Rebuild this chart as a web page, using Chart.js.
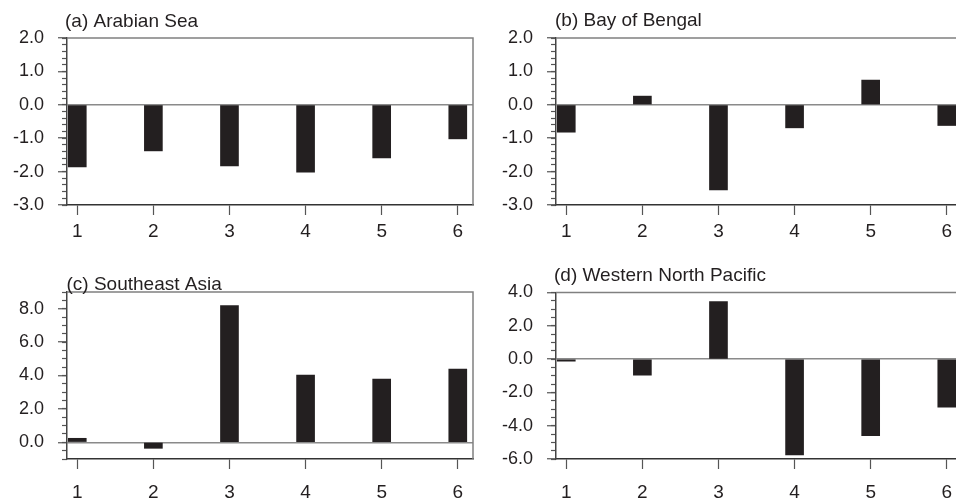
<!DOCTYPE html>
<html>
<head>
<meta charset="utf-8">
<script src="https://cdn.jsdelivr.net/npm/chart.js@4.4.1/dist/chart.umd.min.js"></script>
<style>
  html, body { margin: 0; padding: 0; background: #fff; }
  body { width: 956px; height: 502px; overflow: hidden; position: relative; }
  canvas { position: absolute; }
</style>
</head>
<body>
<canvas id="panelA" width="478" height="250" style="left:0px;top:0px"></canvas>
<canvas id="panelB" width="490" height="250" style="left:476px;top:0px"></canvas>
<canvas id="panelC" width="478" height="252" style="left:0px;top:250px"></canvas>
<canvas id="panelD" width="490" height="252" style="left:476px;top:250px"></canvas>
<script>
const categories = [1, 2, 3, 4, 5, 6];

const arabianSea = [-1.86, -1.38, -1.83, -2.02, -1.59, -1.02];
const bayOfBengal = [-0.82, 0.26, -2.55, -0.69, 0.74, -0.62];
const southeastAsia = [0.24, -0.36, 8.18, 4.02, 3.78, 4.38];
const westernNorthPacific = [-0.12, -0.96, 3.46, -5.76, -4.6, -2.88];

const yTicksAB = [-3, -2, -1, 0, 1, 2];
const yTicksC = [0, 2, 4, 6, 8];
const yTicksD = [-6, -4, -2, 0, 2, 4];

const titles = ["(a) Arabian Sea", "(b) Bay of Bengal", "(c) Southeast Asia", "(d) Western North Pacific"];

const FONT = "'Liberation Sans', Arial, Helvetica, sans-serif";
const INK = "#231f20";

function minorTicks(min, max, step) {
	var out = [];
	var n = Math.round((max - min) / step);
	for (var i = 0; i <= n; i++) {
		out.push(Math.round((min + i * step) * 1000) / 1000);
	}
	return out;
}

// draws the gray top/right frame and the panel title
const panelFrame = {
	id: "panelFrame",
	afterDatasetsDraw(chart, args, opts) {
		const { ctx, chartArea } = chart;
		ctx.save();
		ctx.strokeStyle = "#808080";
		ctx.lineWidth = 1.5;
		ctx.beginPath();
		ctx.moveTo(chartArea.left, chartArea.top);
		ctx.lineTo(chartArea.right, chartArea.top);
		ctx.lineTo(chartArea.right, chartArea.bottom);
		ctx.stroke();
		ctx.restore();
	},
	afterDraw(chart, args, opts) {
		const ctx = chart.ctx;
		ctx.save();
		ctx.fillStyle = INK;
		ctx.font = "19px " + FONT;
		ctx.textBaseline = "alphabetic";
		ctx.textAlign = "left";
		ctx.fillText(opts.text, opts.x, opts.y);
		ctx.restore();
	},
};

function createPanel(id, cfg) {
	const ctx = document.getElementById(id);
	return new Chart(ctx, {
		type: "bar",
		data: {
			labels: categories,
			datasets: [
				{
					data: cfg.values,
					backgroundColor: INK,
					borderWidth: 0,
					barThickness: 18,
				},
			],
		},
		plugins: [panelFrame],
		options: {
			responsive: false,
			animation: false,
			layout: {
				padding: { left: 0, top: cfg.top, right: cfg.right, bottom: 0 },
			},
			plugins: {
				legend: { display: false },
				tooltip: { enabled: false },
				panelFrame: { text: cfg.title, x: cfg.titleX, y: cfg.titleY },
			},
			scales: {
				x: {
					type: "linear",
					position: "bottom",
					offset: false,
					min: 0.865,
					max: 6.2,
					afterBuildTicks: (scale) => {
						scale.ticks = categories.map((v) => ({ value: v }));
					},
					afterFit: (scale) => {
						scale.height = cfg.xHeight;
					},
					grid: {
						offset: false,
						drawOnChartArea: false,
						drawTicks: true,
						tickLength: 10,
						tickColor: "#555",
						tickWidth: 1.2,
					},
					border: { display: true, color: "#333", width: 1.5 },
					ticks: {
						color: INK,
						padding: cfg.xPad,
						font: { family: FONT, size: 19 },
						callback: (v) => String(v),
					},
				},
				y: {
					position: "left",
					weight: 0,
					min: cfg.min,
					max: cfg.max,
					afterBuildTicks: (scale) => {
						scale.ticks = cfg.ticks.map((v) => ({ value: v }));
					},
					afterFit: (scale) => {
						scale.width = cfg.left;
					},
					grid: {
						drawOnChartArea: true,
						drawTicks: true,
						tickLength: 9,
						tickColor: "#555",
						tickWidth: 1.2,
						color: (c) => (c.tick && Math.abs(c.tick.value) < 1e-9 ? "#8a8a8a" : "rgba(0,0,0,0)"),
						lineWidth: 1.5,
					},
					border: { display: true, color: "#444", width: 1.5 },
					ticks: {
						color: INK,
						padding: 14,
						font: { family: FONT, size: 18 },
						callback: (v) => Number(v).toFixed(1),
					},
				},
				yMinor: {
					position: "left",
					weight: -1,
					min: cfg.min,
					max: cfg.max,
					afterBuildTicks: (scale) => {
						scale.ticks = minorTicks(cfg.min, cfg.max, cfg.minorStep).map((v) => ({ value: v }));
					},
					afterFit: (scale) => {
						scale.width = 0;
					},
					grid: {
						drawOnChartArea: false,
						drawTicks: true,
						tickLength: 5,
						tickColor: "#555",
						tickWidth: 1.2,
					},
					border: { display: false },
					ticks: { display: false },
				},
			},
		},
	});
}

createPanel("panelA", {
	values: arabianSea, ticks: yTicksAB, min: -3, max: 2, minorStep: 0.2,
	left: 67, top: 38, right: 5, xHeight: 45, xPad: 5,
	title: titles[0], titleX: 65, titleY: 26.5,
});
createPanel("panelB", {
	values: bayOfBengal, ticks: yTicksAB, min: -3, max: 2, minorStep: 0.2,
	left: 80, top: 38, right: 4, xHeight: 45, xPad: 5,
	title: titles[1], titleX: 79, titleY: 26,
});
createPanel("panelC", {
	values: southeastAsia, ticks: yTicksC, min: -1, max: 9, minorStep: 0.5,
	left: 67, top: 42, right: 5, xHeight: 43, xPad: 12,
	title: titles[2], titleX: 66.5, titleY: 39.5,
});
createPanel("panelD", {
	values: westernNorthPacific, ticks: yTicksD, min: -6, max: 4, minorStep: 0.5,
	left: 80, top: 42.5, right: 4, xHeight: 43, xPad: 12,
	title: titles[3], titleX: 78, titleY: 31,
});
</script>
</body>
</html>
